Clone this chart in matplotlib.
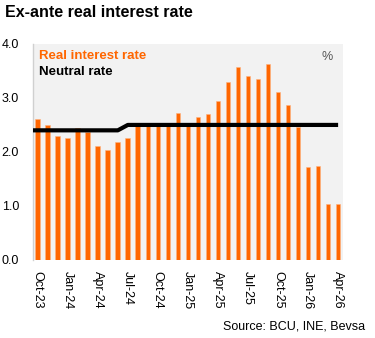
import numpy as np
import matplotlib.pyplot as plt

plt.rcParams['font.family'] = ['Liberation Sans', 'DejaVu Sans']

# Monthly data, Oct-23 to Apr-26
months = ["Oct-23", "Nov-23", "Dec-23", "Jan-24", "Feb-24", "Mar-24", "Apr-24", "May-24",
          "Jun-24", "Jul-24", "Aug-24", "Sep-24", "Oct-24", "Nov-24", "Dec-24", "Jan-25",
          "Feb-25", "Mar-25", "Apr-25", "May-25", "Jun-25", "Jul-25", "Aug-25", "Sep-25",
          "Oct-25", "Nov-25", "Dec-25", "Jan-26", "Feb-26", "Mar-26", "Apr-26"]
real_rate = [2.61, 2.50, 2.30, 2.25, 2.44, 2.37, 2.11, 2.03,
             2.19, 2.25, 2.48, 2.50, 2.50, 2.50, 2.72, 2.53,
             2.65, 2.71, 2.94, 3.29, 3.57, 3.40, 3.35, 3.62,
             3.11, 2.86, 2.47, 1.72, 1.74, 1.03, 1.03]
neutral_rate = [2.4] * 9 + [2.5] * 22

orange = "#FF6600"

fig = plt.figure(figsize=(3.75, 3.38), dpi=100)
ax = fig.add_axes([0.088, 0.231, 0.827, 0.639])
ax.set_facecolor("#F2F2F2")

x = np.arange(len(months))
ax.bar(x, real_rate, width=0.47, color=orange, edgecolor="#FFB380", linewidth=0.4, zorder=2)

# neutral rate line, run out to the left edge of the plot
x_line = np.r_[-0.5, x]
y_line = np.r_[neutral_rate[0], neutral_rate]
ax.plot(x_line, y_line, color="black", lw=3.0, solid_capstyle="butt", zorder=3)

ax.set_xlim(-0.47, 30.5)
ax.set_ylim(0, 4.0)
ax.set_yticks([0, 1, 2, 3, 4])
ax.set_yticklabels([f"{v:.1f}" for v in [0, 1, 2, 3, 4]], fontsize=9)
ax.set_xticks(x[::3])
ax.set_xticklabels(months[::3], rotation=270, fontsize=9, va="top", ha="center")
ax.tick_params(axis="both", length=0)
ax.tick_params(axis="y", pad=10)
ax.tick_params(axis="x", pad=8)

for s in ["top", "right", "bottom"]:
    ax.spines[s].set_visible(False)
ax.spines["left"].set_color("#D0D0D0")
ax.spines["left"].set_linewidth(1.0)

# legend as text
ax.text(0.02, 0.945, "Real interest rate", transform=ax.transAxes, color=orange,
        fontsize=9.5, fontweight="bold", va="center")
ax.text(0.02, 0.87, "Neutral rate", transform=ax.transAxes, color="black",
        fontsize=9.5, fontweight="bold", va="center")
ax.text(0.93, 0.94, "%", transform=ax.transAxes, color="#555555", fontsize=9, va="center")

fig.text(0.013, 0.950, "Ex-ante real interest rate", fontsize=11.5, fontweight="bold", va="baseline")
fig.text(0.973, 0.035, "Source: BCU, INE, Bevsa", fontsize=9, ha="right", va="center")

fig.savefig("out.png", dpi=100)
